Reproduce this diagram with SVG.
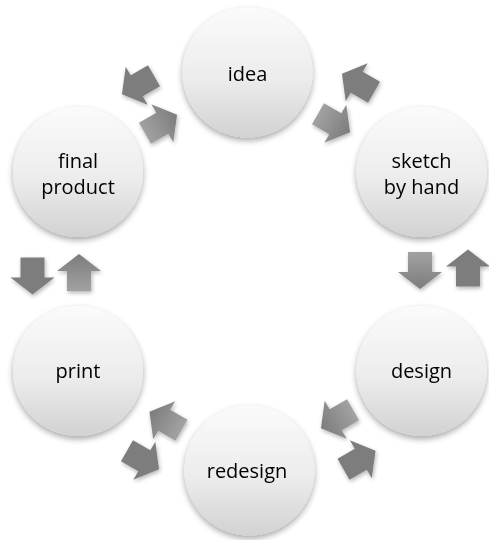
<svg xmlns="http://www.w3.org/2000/svg" width="489" height="540" viewBox="0 0 489 540">
  <defs>
    <linearGradient id="ballFill" x1="0" y1="0" x2="0" y2="1">
      <stop offset="0" stop-color="#fbfbfb"/>
      <stop offset="0.55" stop-color="#ececec"/>
      <stop offset="1" stop-color="#d2d2d2"/>
    </linearGradient>
    <!-- tail lighter, head darker; local arrow space points along +x -->
    <linearGradient id="arrowFade" x1="0" y1="0" x2="1" y2="0">
      <stop offset="0" stop-color="#a2a2a2"/>
      <stop offset="1" stop-color="#7c7c7c"/>
    </linearGradient>
    <filter id="softShadow" x="-30%" y="-30%" width="160%" height="170%">
      <feGaussianBlur in="SourceAlpha" stdDeviation="3"/>
      <feOffset dx="0" dy="3" result="blur"/>
      <feComponentTransfer><feFuncA type="linear" slope="0.35"/></feComponentTransfer>
      <feMerge><feMergeNode/><feMergeNode in="SourceGraphic"/></feMerge>
    </filter>
    <filter id="arrowShadow" x="-40%" y="-40%" width="180%" height="180%">
      <feGaussianBlur in="SourceAlpha" stdDeviation="2"/>
      <feOffset dx="1" dy="2" result="blur"/>
      <feComponentTransfer><feFuncA type="linear" slope="0.3"/></feComponentTransfer>
      <feMerge><feMergeNode/><feMergeNode in="SourceGraphic"/></feMerge>
    </filter>
    <!-- block arrow centred on the origin, pointing along +x -->
    <path id="blockArrow" d="M-18.5,-12 L1.5,-12 L1.5,-22 L18.5,0 L1.5,22 L1.5,12 L-18.5,12 Z"/>
  </defs>
  <style>
    .ball { fill: url(#ballFill); filter: url(#softShadow); }
    .label { font-family: "Open Sans", "Liberation Sans", sans-serif; font-size: 20px; fill: #000; text-anchor: middle; }
    .cw { fill: url(#arrowFade); }
    .ccw { fill: #7d7d7d; }
  </style>

  <!-- connectors: a pair of opposing block arrows between neighbouring steps -->
  <g id="connectors" filter="url(#arrowShadow)">
    <!-- idea / sketch by hand -->
    <use href="#blockArrow" class="cw" transform="translate(334,123) rotate(30)"/>
    <use href="#blockArrow" class="ccw" transform="translate(358,83) rotate(-150)"/>
    <!-- sketch by hand / design -->
    <use href="#blockArrow" class="cw" transform="translate(420,270.5) rotate(90)"/>
    <use href="#blockArrow" class="ccw" transform="translate(468,268) rotate(-90)"/>
    <!-- design / redesign -->
    <use href="#blockArrow" class="cw" transform="translate(337,419) rotate(150)"/>
    <use href="#blockArrow" class="ccw" transform="translate(359.5,460) rotate(-30)"/>
    <!-- redesign / print -->
    <use href="#blockArrow" class="cw" transform="translate(165.5,421) rotate(210)"/>
    <use href="#blockArrow" class="ccw" transform="translate(143,460) rotate(30)"/>
    <!-- print / final product -->
    <use href="#blockArrow" class="cw" transform="translate(79,272.5) rotate(270)"/>
    <use href="#blockArrow" class="ccw" transform="translate(32.5,276) rotate(90)"/>
    <!-- final product / idea -->
    <use href="#blockArrow" class="cw" transform="translate(161,124) rotate(330)"/>
    <use href="#blockArrow" class="ccw" transform="translate(138,85) rotate(150)"/>
  </g>

  <g id="idea">
    <circle class="ball" cx="247.5" cy="72.5" r="65"/>
    <text class="label" x="247.5" y="81">idea</text>
  </g>
  <g id="sketch-by-hand">
    <circle class="ball" cx="421.5" cy="172" r="65"/>
    <text class="label" x="421.5" y="168">sketch</text>
    <text class="label" x="421.5" y="193.5">by hand</text>
  </g>
  <g id="design">
    <circle class="ball" cx="421.5" cy="371" r="65"/>
    <text class="label" x="421.5" y="378">design</text>
  </g>
  <g id="redesign">
    <circle class="ball" cx="249.5" cy="470.5" r="65"/>
    <text class="label" x="247" y="477.5">redesign</text>
  </g>
  <g id="print">
    <circle class="ball" cx="78" cy="371" r="65"/>
    <text class="label" x="78" y="378">print</text>
  </g>
  <g id="final-product">
    <circle class="ball" cx="78" cy="172" r="65"/>
    <text class="label" x="78" y="168">final</text>
    <text class="label" x="78" y="193.5">product</text>
  </g>
</svg>
